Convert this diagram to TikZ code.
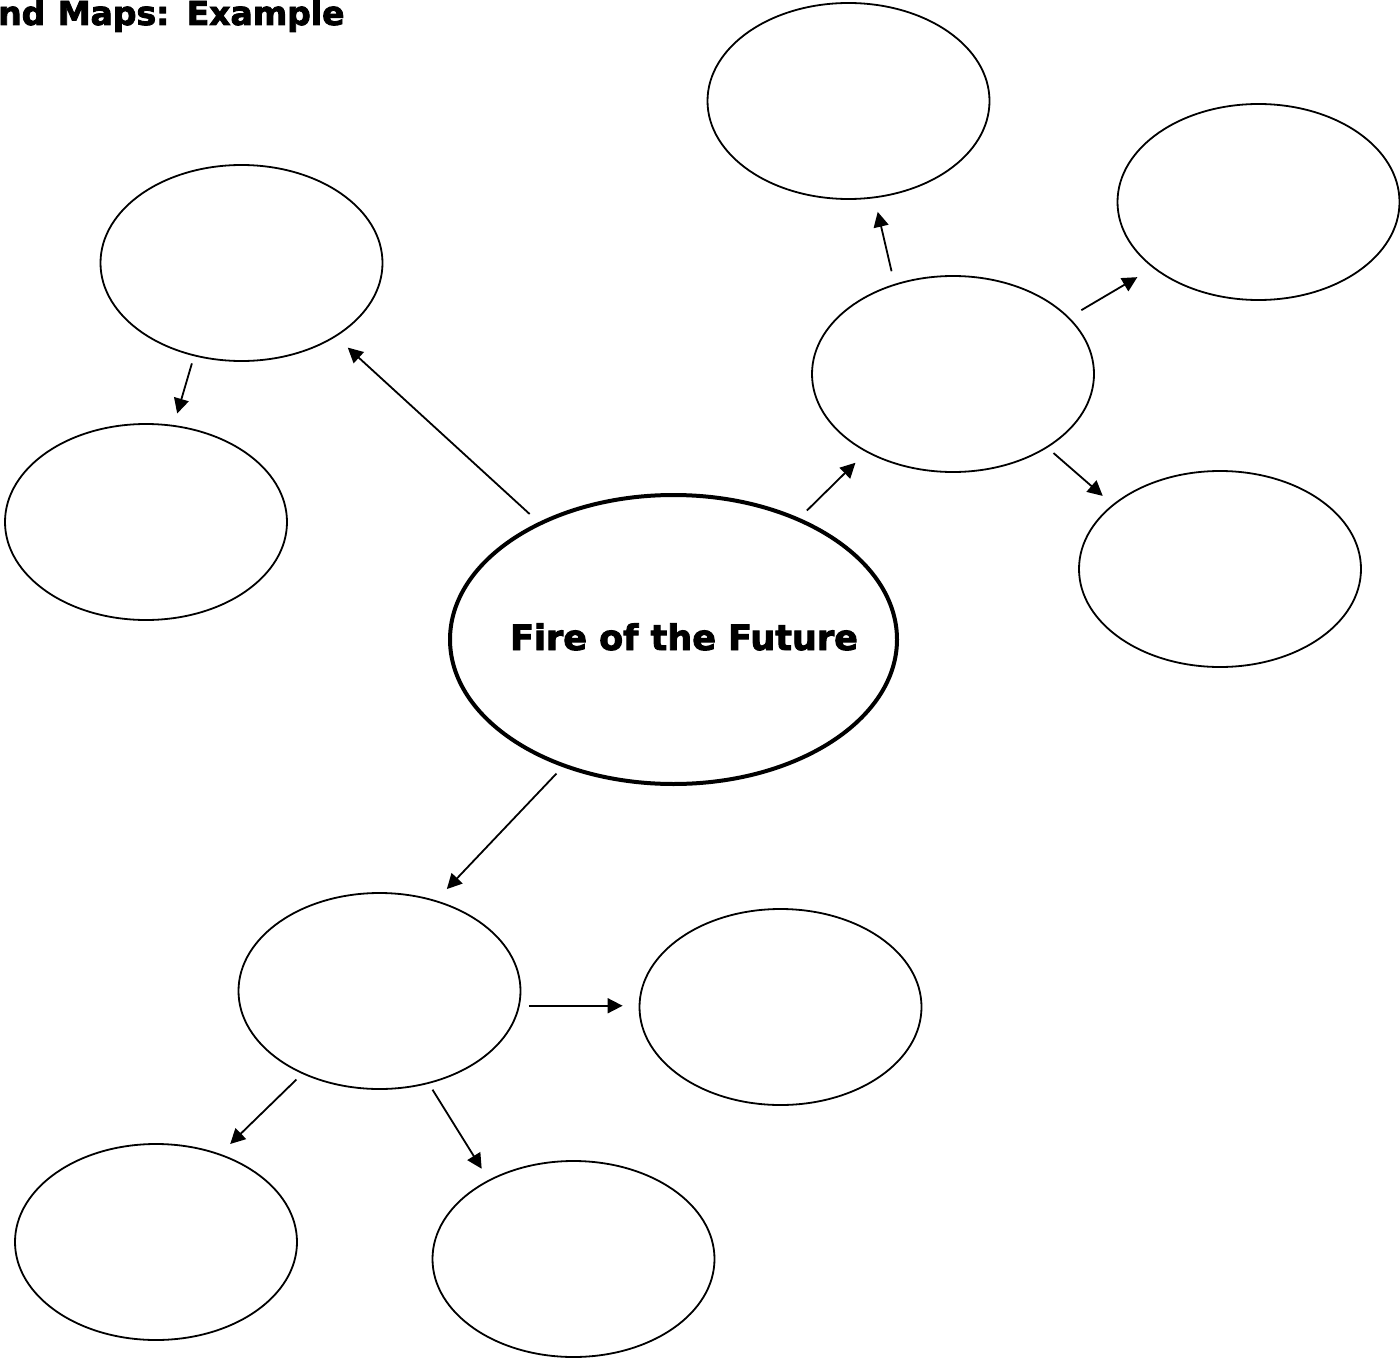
\documentclass[tikz,border=0pt]{standalone}
\usepackage{fontspec}
\newfontfamily\mapfont{DejaVu Sans Bold}[FakeBold=2.6]
\newfontfamily\headfont{DejaVu Sans Bold}[FakeBold=2.6]
\usetikzlibrary{shapes.geometric,arrows.meta}
\tikzset{
  bubble/.style={ellipse, draw=black, line width=1.8pt, minimum width=282pt, minimum height=196pt, inner sep=0pt},
  mainbubble/.style={ellipse, draw=black, line width=4pt, minimum width=447pt, minimum height=289pt, inner sep=0pt},
  arr/.style={line width=1.8pt, -{Triangle[length=15pt,width=15pt]}},
  heading/.style={font=\headfont\fontsize{33}{38}\selectfont, inner sep=0pt, anchor=base west},
  maintext/.style={font=\mapfont\fontsize{35}{42}\selectfont, inner sep=0pt, anchor=base}
}
\begin{document}
\begin{tikzpicture}[x=1pt,y=-1pt]
\useasboundingbox (0,0) rectangle (1400,1359);
\node[heading] (title) at (-2,25) {nd\kern1pt{} Maps:\kern2pt{} Example};
\node[mainbubble] (C) at (673.5,639.5) {};
\node[maintext] (ctext) at (684,650) {Fire of the Future};
\node[bubble] (A) at (241.5,263) {};
\node[bubble] (B) at (146,522) {};
\node[bubble] (T) at (848.5,101) {};
\node[bubble] (D) at (953,374) {};
\node[bubble] (E) at (1258.5,202) {};
\node[bubble] (F) at (1220,569) {};
\node[bubble] (G) at (379.5,991) {};
\node[bubble] (H) at (780.5,1007) {};
\node[bubble] (I) at (156,1242) {};
\node[bubble] (J) at (573.5,1259) {};
\draw[arr, shorten <=12pt, shorten >=16pt] (C.139.9) -- (A.-38.9);
\draw[arr, shorten <=7.5pt, shorten >=12pt] (A.-117.25) -- (B.74.6);
\draw[arr, shorten <=10.5pt, shorten >=15pt] (C.44.1) -- (D.-138.1);
\draw[arr, shorten <=13pt, shorten >=14pt] (D.123.2) -- (T.-75.1);
\draw[arr, shorten <=14pt, shorten >=18pt] (D.26.6) -- (E.-148.3);
\draw[arr, shorten <=8pt, shorten >=13pt] (D.-38.3) -- (F.149.2);
\draw[arr, shorten <=9pt, shorten >=15.5pt] (C.-131.1) -- (G.58.2);
\draw[arr, shorten <=9pt, shorten >=16pt] (G.-6.9) -- (G.-6.9 -| H.west);
\draw[arr, shorten <=8pt, shorten >=14pt] (G.-133.2) -- (I.54.25);
\draw[arr, shorten <=7pt, shorten >=13pt] (G.-62.06) -- (J.137.96);
\end{tikzpicture}
\end{document}
